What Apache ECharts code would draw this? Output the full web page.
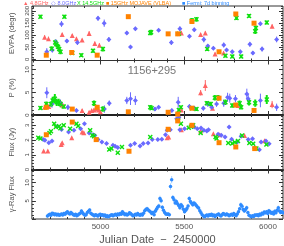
<!DOCTYPE html>
<html><head><meta charset="utf-8">
<script src="https://cdn.jsdelivr.net/npm/echarts@6/dist/echarts.min.js"></script>
<style>html,body{margin:0;padding:0;background:#fff}#c{width:284px;height:246px}</style>
</head><body><div id="c"></div>
<script>
// ---------- axis ticks ----------
const X_MIN = 4590, X_MAX = 6090;
const xMajor = [5000, 5500, 6000];
const xMinor = [4600,4700,4800,4900,5100,5200,5300,5400,5600,5700,5800,5900];
const evpaMajor = [0,50,100,150,200];
const evpaMinor = [10,20,30,40,60,70,80,90,110,120,130,140,160,170,180,190,210,220];
const pMajor = [0,5,10];
const pMinor = [1,2,3,4,6,7,8,9,11,12];
const fluxMajor = [0,1,2,3];
const fluxMinor = [0.2,0.4,0.6,0.8,1.2,1.4,1.6,1.8,2.2,2.4,2.6,2.8,3.2,3.4,3.6];
const gammaMajor = [0,5,10];
const gammaLabels = [5,10];
const gammaMinor = [1,2,3,4,6,7,8,9,11,12,13];

// ---------- data: [date, value, error] ----------
const evpaRed = [[4666,91,8],[4689,85,8],[4771,102,7],[4831,98,6],[4856,85,6],[4890,80,5],[4932,106,10],[4966,65,8],[4993,58,8],[5483,109,8],[5598,102,6],[5626,109,6],[5684,22,6],[5735,26,6],[6025,136,8]];
const evpaBlue = [[4679,31,15],[4712,38,10],[4733,71,12],[4767,146,12],[4799,75,8],[4862,69,10],[4985,169,10],[5022,149,15],[5050,82,10],[5157,109,8],[5179,51,8],[5208,126,8],[5347,120,6],[5423,69,10],[5474,126,10],[5531,95,8],[5560,122,8],[5617,82,12],[5641,55,8],[5674,46,8],[5736,59,10],[5753,38,8],[5787,31,8],[5835,31,8],[5892,62,10],[5910,26,8],[5955,147,8],[5965,42,10],[6052,82,12]];
const evpaGreen = [[4641,176,8],[4708,44,10],[4729,69,12],[4736,62,12],[4746,52,12],[4753,42,12],[4761,31,10],[4784,176,8],[4831,26,8],[4885,17,8],[4955,35,8],[5014,42,10],[5297,109,10],[5302,112,10],[5468,105,8],[5546,160,10],[5573,165,10],[5637,42,8],[5746,15,8],[5787,12,8],[5812,170,8],[5840,12,8],[5887,179,8],[5924,116,12],[5928,129,10],[5993,152,8]];
const evpaOrange = [[4676,17,0],[4828,28,0],[4980,17,0],[5166,176,0],[5404,105,0],[5461,105,0],[5546,156,0],[5708,31,0],[5808,187,0],[5917,149,0]];

const pRed = [[4666,1.7,0.4],[4679,2.2,0.5],[4691,1.85,0.4],[4774,2.2,0.4],[4890,1.0,0.3],[4932,0.6,0.3],[4947,1.0,0.3],[4961,1.1,0.4],[4974,1.3,0.4],[4989,1.1,0.3],[4999,0.7,0.3],[5483,1.1,0.3],[5598,4.9,0.6],[5626,6.5,1.2],[5669,1.5,0.3],[5821,2.1,0.4],[6025,2.3,0.8]];
const pBlue = [[4679,4.9,1.2],[4710,2.4,0.8],[4761,2.6,0.8],[4805,1.7,0.6],[4856,1.0,0.4],[4980,1.7,0.5],[5023,1.3,0.8],[5052,2.6,0.6],[5157,3.2,0.8],[5179,3.6,1.4],[5208,3.2,1.0],[5325,1.3,0.4],[5347,1.7,0.4],[5426,1.0,0.4],[5464,2.8,1.2],[5461,0.3,0.6],[5531,1.85,0.5],[5560,1.5,0.5],[5614,1.5,0.5],[5641,2.4,0.6],[5664,1.7,0.5],[5693,2.4,0.6],[5736,2.6,0.8],[5759,3.9,1.0],[5772,3.7,1.0],[5806,3.6,0.8],[5874,4.6,1.2],[5882,3.6,1.0],[5955,3.2,1.5],[6052,1.7,0.8]];
const pGreen = [[4641,1.56,0.4],[4676,2.4,0.6],[4704,2.4,0.6],[4714,3.2,0.8],[4727,3.6,1.0],[4738,2.8,0.8],[4750,2.8,0.8],[4761,2.4,0.7],[4780,1.85,0.5],[4961,2.6,0.6],[5014,1.3,0.6],[5297,1.7,0.5],[5305,1.5,0.4],[5468,1.1,0.4],[5480,1.7,0.4],[5546,1.5,0.4],[5573,1.3,0.4],[5635,2.6,0.5],[5658,2.4,0.5],[5683,3.8,0.6],[5702,3.8,0.6],[5746,2.8,0.6],[5787,2.1,0.5],[5831,2.6,0.6],[5840,1.7,0.5],[5887,2.8,0.7],[5924,2.6,0.8],[5993,3.4,1.0]];
const pOrange = [[4676,1.7,0],[4831,1.3,0],[4980,1.7,0],[5166,0.7,0],[5404,0.6,0],[5461,0.2,0],[5546,1.5,0],[5708,3.7,0],[5808,2.2,0],[5917,1.0,0]];

const fluxRed = [[4660,1.26,0.05],[4685,1.26,0.05],[4765,1.69,0.06],[4771,1.82,0.06],[4828,2.16,0.06],[4890,2.55,0.06],[4900,2.5,0.06],[5398,2.16,0.06],[5407,2.2,0.06],[5483,2.7,0.06],[5598,2.61,0.06],[5674,2.43,0.06],[5712,2.36,0.06],[5860,2.3,0.06],[5980,1.96,0.06]];
const fluxBlue = [[4657,2.03,0.05],[4668,1.98,0.05],[4691,1.82,0.05],[4710,1.94,0.05],[4742,2.93,0.05],[4767,2.72,0.05],[4809,2.55,0.05],[4841,2.66,0.05],[4881,2.77,0.05],[4904,3.1,0.05],[4932,2.48,0.05],[4955,2.36,0.05],[4966,2.3,0.05],[4985,2.03,0.05],[5008,1.87,0.05],[5036,1.76,0.05],[5074,1.64,0.05],[5087,1.58,0.05],[5103,1.49,0.05],[5179,1.64,0.05],[5204,1.76,0.05],[5236,1.6,0.05],[5255,1.76,0.05],[5284,1.8,0.05],[5309,2.03,0.05],[5342,2.03,0.05],[5366,2.05,0.05],[5388,2.36,0.05],[5398,2.66,0.05],[5417,2.7,0.05],[5455,3.45,0.08],[5461,3.38,0.08],[5468,3.55,0.08],[5474,2.7,0.05],[5502,2.77,0.05],[5560,2.88,0.05],[5578,2.77,0.05],[5600,2.82,0.05],[5617,2.66,0.05],[5635,2.61,0.05],[5645,2.7,0.05],[5702,2.39,0.05],[5721,2.32,0.05],[5744,2.2,0.05],[5768,2.88,0.08],[5783,2.05,0.05],[5817,1.87,0.05],[5840,2.25,0.05],[5882,2.03,0.05],[5908,2.09,0.05],[5920,1.46,0.05],[5949,1.34,0.05],[5959,1.87,0.05],[5988,1.93,0.05],[6007,1.75,0.05]];
const fluxGreen = [[4628,2.16,0.06],[4641,2.1,0.06],[4695,2.48,0.06],[4704,2.59,0.06],[4723,3.1,0.08],[4733,2.88,0.06],[4752,2.93,0.06],[4760,2.8,0.06],[4780,3.0,0.06],[4818,2.77,0.06],[4856,3.1,0.06],[4866,2.95,0.06],[4938,2.66,0.06],[4951,2.32,0.06],[4961,2.25,0.06],[5052,1.35,0.06],[5065,1.42,0.06],[5103,1.13,0.06],[5128,1.53,0.06],[5297,2.2,0.06],[5464,3.33,0.06],[5480,3.1,0.06],[5527,2.84,0.06],[5540,2.9,0.06],[5553,3.0,0.06],[5598,2.48,0.06],[5687,2.2,0.06],[5693,2.1,0.06],[5763,1.8,0.06],[5787,1.76,0.06],[5802,1.85,0.06],[5821,1.94,0.06],[5845,2.3,0.06],[5889,1.8,0.06],[5912,1.75,0.06],[5931,1.42,0.06],[5991,1.69,0.06]];
const fluxOrange = [[4676,2.36,0],[4831,3.22,0],[4974,2.03,0],[5170,1.24,0],[5404,2.73,0],[5461,3.3,0],[5546,3.0,0],[5708,1.82,0],[5808,1.53,0],[5921,1.42,0]];

// Fermi weekly bins
const GAMMA_START = 4683, GAMMA_STEP = 7;
const gammaFlux = [
0.8,1.1,1.3,1.0,1.6,1.5,1.2,1.4,1.1,1.3,
1.0,1.2,1.4,1.1,1.5,1.3,1.7,2.0,1.6,1.4,
1.8,1.5,1.2,1.0,1.3,0.9,1.1,1.4,1.6,2.2,
1.7,1.3,1.0,1.2,1.8,2.1,2.5,1.6,1.3,1.1,
0.9,1.2,1.0,0.8,1.1,1.3,1.0,1.2,0.9,1.1,
0.7,0.9,0.6,0.8,1.0,1.2,0.9,1.1,1.3,1.0,
1.4,1.2,1.5,1.3,2.0,1.6,1.2,1.4,1.1,1.3,
1.7,1.5,1.2,0.9,1.0,1.3,1.1,1.5,1.2,1.0,
1.3,1.1,1.6,2.3,2.6,2.8,2.5,2.2,1.9,1.5,
1.8,1.2,2.1,2.7,3.2,3.6,5.6,5.0,3.2,2.4,
1.8,1.4,1.3,1.4,1.2,8.9,10.8,5.9,5.3,4.4,
4.8,4.2,3.7,3.1,3.9,3.5,2.7,2.0,2.4,2.9,
3.6,5.6,4.8,4.3,3.9,4.4,4.1,3.7,3.3,3.0,
2.3,1.7,1.2,0.8,0.6,0.9,1.1,0.8,1.2,1.0,
1.3,0.9,1.1,0.7,1.0,1.2,1.4,1.0,0.8,1.2,
1.5,1.3,1.1,1.4,1.2,0.9,1.1,1.3,1.0,1.5,
1.2,0.9,1.4,2.0,2.8,3.9,3.5,2.6,2.2,2.6,
3.1,1.8,1.0,0.8,0.6,0.9,0.7,1.1,1.0,1.2,
0.9,1.3,1.1,1.6,1.4,1.9,1.7,2.0,1.5,2.3,
2.0,1.6,1.8,1.4,2.1,1.7,2.4,3.1,2.2,1.8,
2.0,1.7];
const gammaErr = [
0.5,0.4,0.4,0.5,0.4,0.4,0.5,0.4,0.5,0.4,
0.4,0.5,0.4,0.4,0.5,0.4,0.5,0.5,0.4,0.4,
0.5,0.4,0.4,0.5,0.4,0.5,0.4,0.4,0.5,0.5,
0.4,0.4,0.5,0.4,0.5,0.5,0.5,0.4,0.4,0.5,
0.5,0.4,0.5,0.5,0.4,0.4,0.5,0.4,0.5,0.4,
0.5,0.5,0.5,0.4,0.5,0.4,0.5,0.4,0.4,0.5,
0.4,0.4,0.5,0.4,0.5,0.4,0.4,0.5,0.4,0.4,
0.5,0.4,0.4,0.5,0.5,0.4,0.4,0.5,0.4,0.5,
0.4,0.5,0.5,0.5,0.6,0.6,0.6,0.5,0.5,0.5,
0.5,0.5,0.6,0.6,0.6,0.6,0.8,0.7,0.6,0.6,
0.5,0.5,0.5,0.5,0.5,0.9,1.0,0.7,0.7,0.6,
0.7,0.6,0.6,0.6,0.6,0.6,0.6,0.5,0.5,0.6,
0.6,0.7,0.7,0.6,0.6,0.6,0.6,0.6,0.6,0.6,
0.5,0.5,0.4,0.4,0.4,0.4,0.4,0.4,0.5,0.4,
0.4,0.4,0.4,0.5,0.4,0.4,0.5,0.4,0.4,0.5,
0.4,0.4,0.4,0.5,0.4,0.4,0.5,0.4,0.4,0.5,
0.4,0.4,0.5,0.5,0.6,0.7,0.6,0.6,0.5,0.6,
0.6,0.5,0.4,0.4,0.4,0.4,0.4,0.5,0.4,0.4,
0.4,0.5,0.4,0.5,0.5,0.5,0.5,0.5,0.5,0.5,
0.5,0.5,0.5,0.4,0.5,0.5,0.5,0.6,0.5,0.5,
0.5,0.5];

// ---------- styling ----------
const FONT = 'Liberation Sans';
const C_RED = '#ff6464', C_BLUE = '#6a6aff', C_GREEN = '#10e010', C_ORANGE = '#ff8200', C_FERMI = '#2e8bff', C_FERMI_ERR = '#a9d2ff';
const AXC = '#333';
const X_SYM = 'path://M0,2L2,0L5,3L8,0L10,2L7,5L10,8L8,10L5,7L2,10L0,8L3,5Z';
const plain = v => String(v);

const panels = [
  {top:6,    min:-5, max:220, major:evpaMajor, labels:evpaMajor, minor:evpaMinor, name:'EVPA (degr)'},
  {top:60.5, min:0,  max:12,  major:pMajor, labels:pMajor, minor:pMinor, name:'P (%)'},
  {top:115,  min:0,  max:3.7, major:fluxMajor, labels:fluxMajor, minor:fluxMinor, name:'Flux (Jy)'},
  {top:169.5,min:0,  max:13.6,major:gammaMajor, labels:gammaLabels, minor:gammaMinor, name:'\u03b3-Ray Flux'}
];
const PH = 54.5;

const grid = [], xAxis = [], yAxis = [], series = [];
panels.forEach((p, g) => {
  grid.push({left:20, right:1, top:p.top, height:PH, show:true, borderColor:AXC, borderWidth:1, backgroundColor:'transparent'});
  const tickStyle = {color:AXC, width:1};
  const mkX = (pos, ticks, len, main) => {
    const ax = {gridIndex:g, type:'value', min:X_MIN, max:X_MAX, position:pos,
      axisLine:{show: main && pos==='bottom' && (g===1||g===2), onZero:false, lineStyle:{color:'#222', width:2}},
      axisTick:{show:true, inside:true, length:len, customValues:ticks, lineStyle:tickStyle},
      axisLabel:{show:false}, splitLine:{show:false}};
    if (g===3 && pos==='bottom' && main) {
      ax.axisLabel = {show:true, customValues:xMajor, formatter:plain, fontSize:8, color:'#555', margin:4, fontFamily:FONT};
      ax.name = 'Julian Date  \u2212  2450000';
      ax.nameLocation = 'middle'; ax.nameGap = 15;
      ax.nameTextStyle = {fontSize:11, color:'#555', fontFamily:FONT};
    }
    return ax;
  };
  xAxis.push(mkX('bottom', xMajor, 4, true), mkX('bottom', xMinor, 2, false), mkX('top', xMajor, 4, false), mkX('top', xMinor, 2, false));
  const mkY = (pos, ticks, len, main) => {
    const ax = {gridIndex:g, type:'value', min:p.min, max:p.max, position:pos,
      axisLine:{show:false}, splitLine:{show:false},
      axisTick:{show:true, inside:true, length:len, customValues:ticks, lineStyle:tickStyle},
      axisLabel:{show:false}};
    if (main) {
      ax.axisLabel = {show:true, customValues:p.labels, formatter:plain, rotate:90, fontSize:6, color:'#444', margin:2, fontFamily:FONT};
      ax.name = p.name; ax.nameLocation = 'middle'; ax.nameGap = 9; ax.nameRotate = 90;
      ax.nameTextStyle = {fontSize:7.5, color:'#555', fontFamily:FONT};
    }
    return ax;
  };
  yAxis.push(mkY('left', p.major, 4, true), mkY('left', p.minor, 2, false), mkY('right', p.major, 4, false), mkY('right', p.minor, 2, false));
});

function errSeries(arr, g, color, w) {
  return {type:'custom', xAxisIndex:4*g, yAxisIndex:4*g, clip:true, silent:true, z:2,
    data: arr.filter(d => d[2] > 0).map(d => [d[0], d[1]-d[2], d[1]+d[2]]),
    renderItem: (params, api) => {
      const a = api.coord([api.value(0), api.value(1)]);
      const b = api.coord([api.value(0), api.value(2)]);
      return {type:'line', shape:{x1:a[0], y1:a[1], x2:b[0], y2:b[1]}, style:{stroke:color, lineWidth:w}};
    }};
}
function ptSeries(arr, g, color, symbol, size, z) {
  return {type:'scatter', xAxisIndex:4*g, yAxisIndex:4*g, clip:true, silent:true, z:z,
    symbol:symbol, symbolSize:size, itemStyle:{color:color, opacity:1},
    data: arr.map(d => [d[0], d[1]])};
}
const radio = [
  [evpaRed, evpaBlue, evpaGreen, evpaOrange],
  [pRed, pBlue, pGreen, pOrange],
  [fluxRed, fluxBlue, fluxGreen, fluxOrange]
];
radio.forEach((set, g) => {
  const [r, b, gr, o] = set;
  series.push(errSeries(r, g, C_RED, 1), ptSeries(r, g, C_RED, 'triangle', 5, 3));
  series.push(errSeries(b, g, C_BLUE, 1), ptSeries(b, g, C_BLUE, 'diamond', 5, 3));
  series.push(errSeries(gr, g, C_GREEN, 2), ptSeries(gr, g, C_GREEN, X_SYM, 5, 4));
  series.push(ptSeries(o, g, C_ORANGE, 'rect', 5, 5));
});
const gammaData = gammaFlux.map((v, i) => [GAMMA_START + GAMMA_STEP*i, v, gammaErr[i]]);
series.push(errSeries(gammaData, 3, C_FERMI_ERR, 1), ptSeries(gammaData, 3, C_FERMI, 'circle', 3.5, 3));

const legendItems = [
  {x:23, text:'\u25b2 4.8GHz', color:C_RED},
  {x:51, text:'\u25c7 8.0GHz', color:C_BLUE},
  {x:77, text:'X 14.5GHz', color:C_GREEN},
  {x:106, text:'\u25a0 15GHz MOJAVE (VLBA)', color:C_ORANGE},
  {x:182, text:'\u25a0 Fermi: 7d binning', color:C_FERMI}
];
const graphic = legendItems.map(it => ({type:'text', x:it.x, y:0.5, z:10,
  style:{text:it.text, fill:it.color, fontSize:5.5, fontFamily:FONT}}));
graphic.push({type:'text', x:152, y:71, z:10, style:{text:'1156+295', fill:'#777', fontSize:11, fontFamily:FONT, align:'center', verticalAlign:'middle'}});

const chart = echarts.init(document.getElementById('c'), null, {renderer:'canvas'});
chart.setOption({animation:false, backgroundColor:'#fff', grid, xAxis, yAxis, series, graphic});
</script></body></html>
